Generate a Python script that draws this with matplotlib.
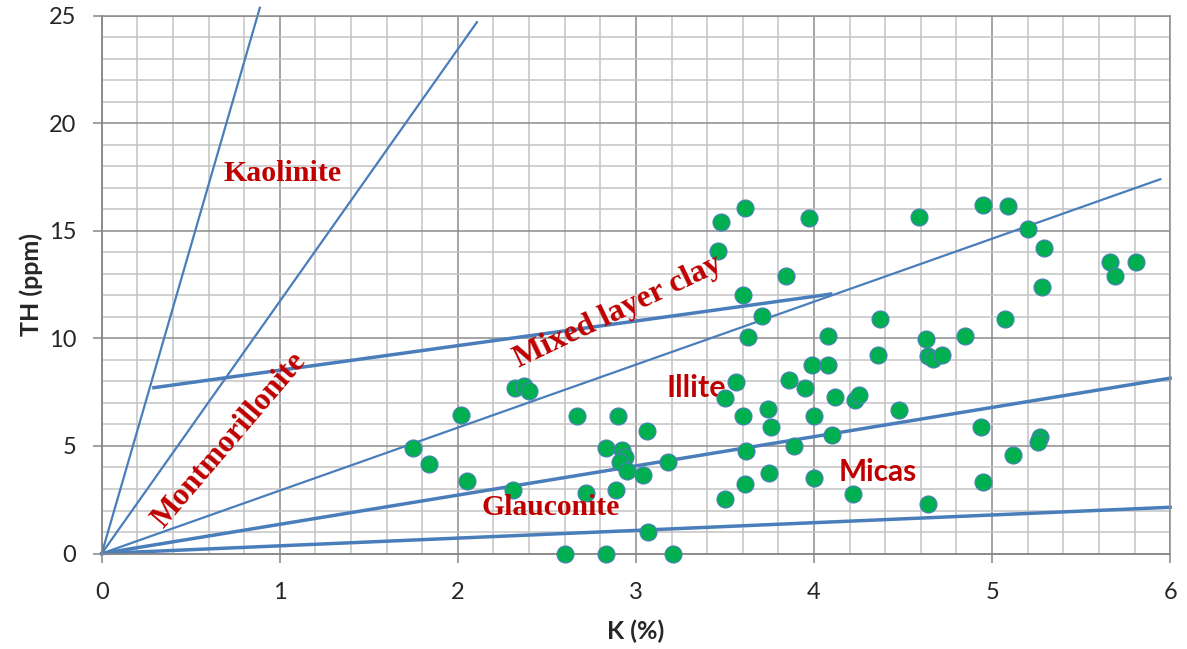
import matplotlib
matplotlib.use("Agg")
import matplotlib.pyplot as plt
from matplotlib.ticker import MultipleLocator

# ---- data ----
k_pct = [1.75, 1.84, 2.02, 2.05, 2.31, 2.32, 2.37, 2.40, 2.60, 2.67,
         2.72, 2.83, 2.83, 2.90, 2.89, 2.92, 2.94, 2.91, 2.95, 3.04,
         3.06, 3.07, 3.21, 3.18, 3.48, 3.46, 3.61, 3.60, 3.63, 3.71,
         3.84, 3.97, 3.56, 3.50, 3.60, 3.62, 3.61, 3.50, 3.74, 3.76,
         3.75, 3.86, 3.95, 3.89, 3.99, 4.08, 4.08, 4.00, 4.00, 4.12,
         4.10, 4.23, 4.25, 4.22, 4.37, 4.36, 4.48, 4.59, 4.63, 4.64,
         4.67, 4.72, 4.85, 4.64, 4.94, 4.95, 4.95, 5.07, 5.09, 5.20,
         5.29, 5.28, 5.27, 5.26, 5.12, 5.66, 5.69, 5.81]
th_ppm = [4.91, 4.14, 6.44, 3.36, 2.97, 7.70, 7.78, 7.54, 0.0, 6.38,
          2.83, 0.0, 4.92, 6.38, 2.95, 4.80, 4.50, 4.27, 3.82, 3.65,
          5.68, 1.02, 0.0, 4.24, 15.39, 14.06, 16.08, 12.02, 10.08, 11.06,
          12.88, 15.59, 7.98, 7.22, 6.40, 4.78, 3.22, 2.53, 6.73, 5.90,
          3.74, 8.06, 7.68, 4.98, 8.76, 8.75, 10.13, 6.40, 3.50, 7.28,
          5.49, 7.15, 7.36, 2.76, 10.90, 9.24, 6.67, 15.66, 9.99, 9.19,
          9.02, 9.23, 10.13, 2.32, 5.90, 3.31, 16.20, 10.90, 16.16, 15.10,
          14.22, 12.39, 5.41, 5.18, 4.56, 13.57, 12.88, 13.57]

# boundary lines (start / end points)
kaolinite_x, kaolinite_y = [0.0, 0.888], [0.0, 25.37]
montmor_x, montmor_y = [0.0, 2.107], [0.0, 24.7]
mixed_x, mixed_y = [0.293, 4.094], [7.71, 12.06]
illite_x, illite_y = [0.0, 5.945], [0.0, 17.40]
micas_x, micas_y = [0.0, 6.0], [0.0, 8.15]
glauc_x, glauc_y = [0.0, 6.0], [0.0, 2.15]

x_label = "K (%)"
y_label = "TH (ppm)"

# ---- figure ----
fig = plt.figure(figsize=(11.87, 6.49), dpi=100)
ax = fig.add_axes([0.0857, 0.1471, 0.9001, 0.8287])

ax.set_xlim(0, 6)
ax.set_ylim(0, 25)
ax.xaxis.set_major_locator(MultipleLocator(1))
ax.xaxis.set_minor_locator(MultipleLocator(0.2))
ax.yaxis.set_major_locator(MultipleLocator(5))
ax.yaxis.set_minor_locator(MultipleLocator(1))
ax.grid(which="minor", color="#C3C3C3", linewidth=1.1, zorder=0)
ax.grid(which="major", color="#8C8C8C", linewidth=1.1, zorder=0)
ax.set_axisbelow(True)

for side in ("top", "right"):
    ax.spines[side].set_color("#8C8C8C")
    ax.spines[side].set_linewidth(1.1)
for side in ("left", "bottom"):
    ax.spines[side].set_color("#868686")
    ax.spines[side].set_linewidth(1.3)

ax.tick_params(which="major", direction="out", length=6.5, width=1.1,
               color="#868686", labelsize=17, labelcolor="#262626")
ax.tick_params(axis="y", which="major", pad=12)
ax.tick_params(axis="x", which="major", pad=14)
ax.tick_params(which="minor", length=0)
for lab in ax.get_xticklabels() + ax.get_yticklabels():
    lab.set_family("Lato")

ax.set_xlabel(x_label, fontsize=18, fontweight="bold", family="Lato",
              color="#262626", labelpad=12)
ax.set_ylabel(y_label, fontsize=18, fontweight="bold", family="Lato",
              color="#262626", labelpad=4)

blue = "#4A7EBB"
thin, thick = 1.6, 2.5
ax.plot(kaolinite_x, kaolinite_y, color=blue, lw=thin, clip_on=False, zorder=2)
ax.plot(montmor_x, montmor_y, color=blue, lw=thin, clip_on=False, zorder=2)
ax.plot(mixed_x, mixed_y, color=blue, lw=thick, zorder=2)
ax.plot(illite_x, illite_y, color=blue, lw=thin, zorder=2)
ax.plot(micas_x, micas_y, color=blue, lw=thick, clip_on=False, zorder=2)
ax.plot(glauc_x, glauc_y, color=blue, lw=thick, clip_on=False, zorder=2)

ax.scatter(k_pct, th_ppm, s=150, color="#00B050", edgecolors="#4A7EBB",
           linewidths=0.8, zorder=4, clip_on=False)

red = "#C00000"
serif = dict(family="Liberation Serif", fontweight="bold", color=red, zorder=5)
sans = dict(family="Lato", fontweight="bold", color=red, zorder=3)
ax.text(1.017, 17.65, "Kaolinite", fontsize=21.5, ha="center", va="center", **serif)
ax.text(0.72, 5.28, "Montmorillonite", fontsize=22.5, rotation=49.5,
        ha="center", va="center", rotation_mode="anchor", **serif)
ax.text(2.90, 11.25, "Mixed layer clay", fontsize=23, rotation=25.6,
        ha="center", va="center", rotation_mode="anchor", **serif)
ax.text(2.52, 2.16, "Glauconite", fontsize=21.3, ha="center", va="center", **serif)
ax.text(3.34, 7.68, "Illite", fontsize=22, ha="center", va="center", **sans)
ax.text(4.36, 3.80, "Micas", fontsize=21.5, ha="center", va="center", **sans)

fig.savefig("out.png", dpi=100)
